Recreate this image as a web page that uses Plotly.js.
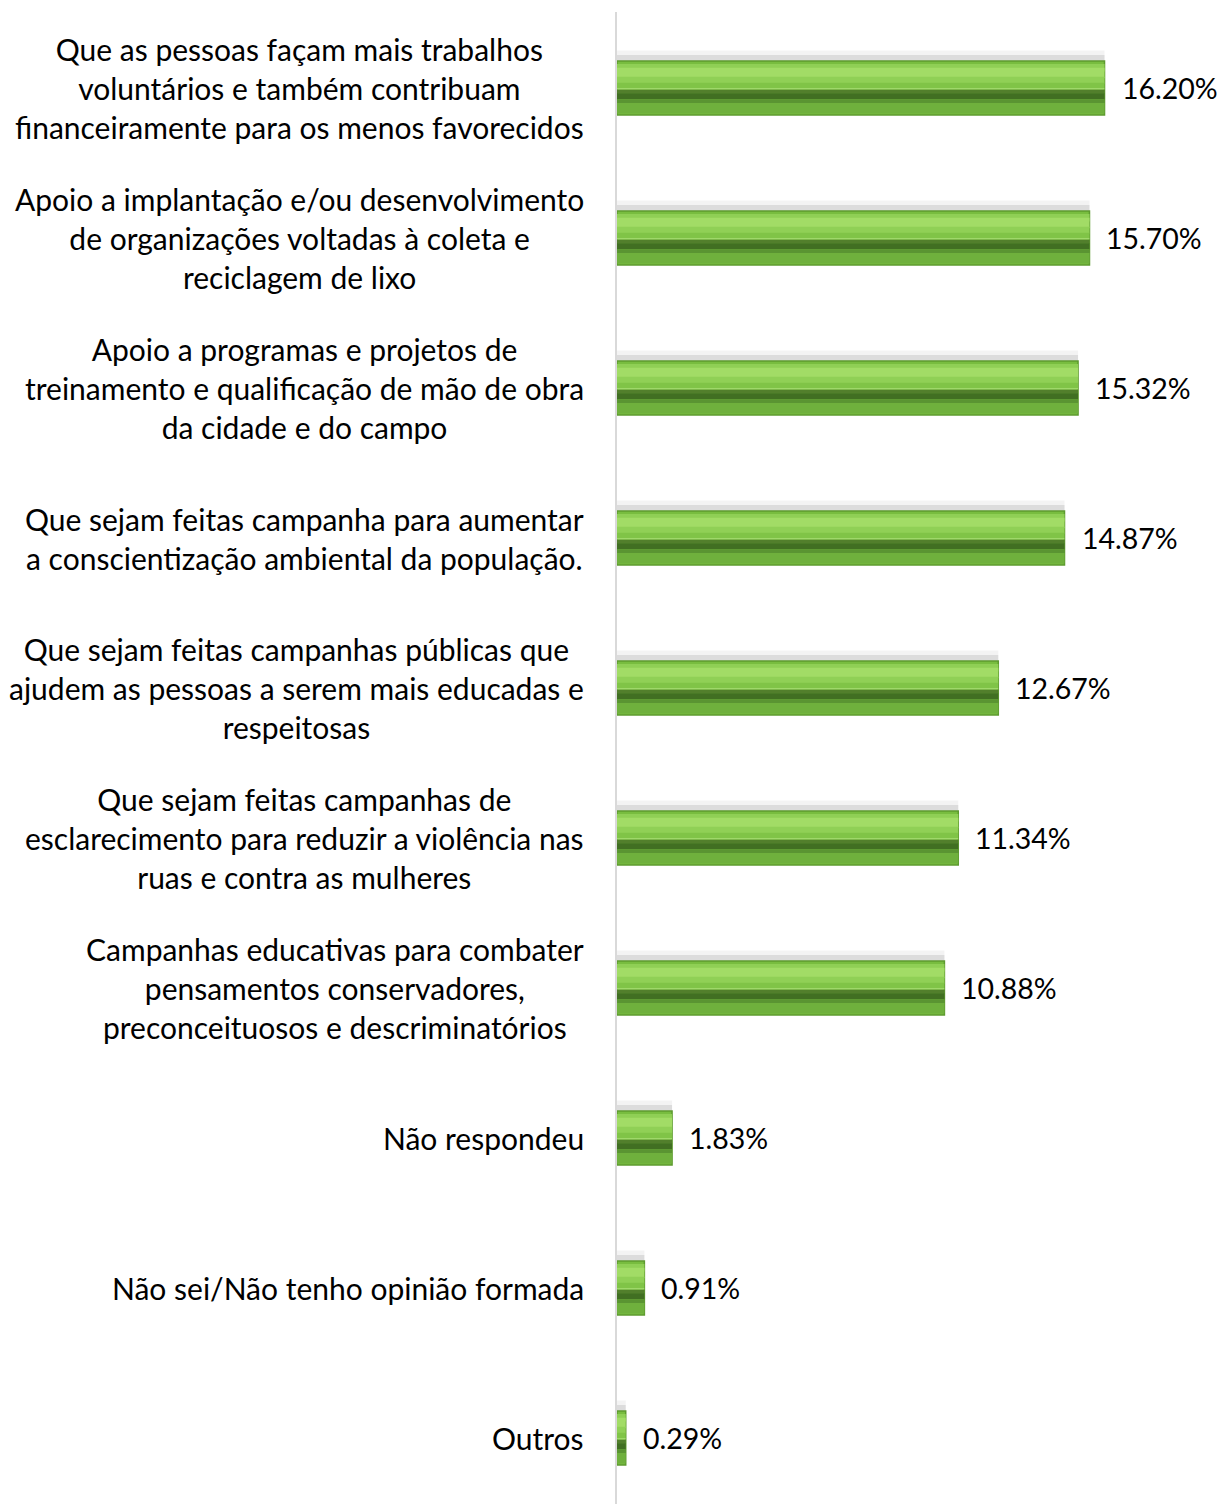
<!DOCTYPE html>
<html>
<head>
<meta charset="utf-8">
<script src="https://cdn.plot.ly/plotly-3.0.1.min.js"></script>
<style>html,body{margin:0;padding:0;background:#fff;}#chart{width:1221px;height:1504px;}</style>
</head>
<body>
<div id="chart"></div>
<script>
const categories = [
  "Que as pessoas façam mais trabalhos<br>voluntários e também contribuam<br>financeiramente para os menos favorecidos",
  "Apoio a implantação e/ou desenvolvimento<br>de organizações voltadas à coleta e<br>reciclagem de lixo",
  "Apoio a programas e projetos de<br>treinamento e qualificação de mão de obra<br>da cidade e do campo",
  "Que sejam feitas campanha para aumentar<br>a conscientização ambiental da população.",
  "Que sejam feitas campanhas públicas que<br>ajudem as pessoas a serem mais educadas e<br>respeitosas",
  "Que sejam feitas campanhas de<br>esclarecimento para reduzir a violência nas<br>ruas e contra as mulheres",
  "Campanhas educativas para combater<br>pensamentos conservadores,<br>preconceituosos e descriminatórios",
  "Não respondeu",
  "Não sei/Não tenho opinião formada",
  "Outros"
];
const values = [16.20, 15.70, 15.32, 14.87, 12.67, 11.34, 10.88, 1.83, 0.91, 0.29];
const valueLabels = ["16.20%", "15.70%", "15.32%", "14.87%", "12.67%", "11.34%", "10.88%", "1.83%", "0.91%", "0.29%"];

const FONT = "Lato, 'Open Sans', sans-serif";
const idx = categories.map((c, i) => i);

function layer(color, offset, width, line) {
  return {
    type: "bar", orientation: "h", x: values, y: idx,
    offset: offset, width: width,
    marker: {color: color, line: line || {width: 0}},
    hoverinfo: "skip", showlegend: false
  };
}

const traces = [
  layer("rgba(160,160,160,0.12)", -0.25, 0.07),
  layer("rgba(140,140,140,0.22)", -0.22, 0.04),
  layer("#78bd3f", -0.18, 0.36, {color: "#5d9a2f", width: 1.5}),
  layer("#8fcf55", -0.16, 0.05),
  layer("#a2dc66", -0.135, 0.07),
  layer("#90d056", -0.075, 0.045),
  layer("#80c447", -0.035, 0.035),
  layer("#9fd86a", 0.0, 0.01),
  layer("#527f2c", 0.012, 0.025),
  layer("#416f22", 0.035, 0.04),
  layer("#5a9432", 0.075, 0.025),
  layer("#6fb03d", 0.10, 0.07)
];

const annotations = [];
categories.forEach((c, i) => {
  annotations.push({
    xref: "x", yref: "y", x: 0, y: i, xshift: -31,
    xanchor: "right", yanchor: "middle", align: "center",
    text: c, showarrow: false,
    font: {family: FONT, size: 30, color: "#000"}
  });
  annotations.push({
    xref: "x", yref: "y", x: values[i], y: i, xshift: 15,
    xanchor: "left", yanchor: "middle", align: "left",
    text: valueLabels[i], showarrow: false,
    font: {family: FONT, size: 28.5, color: "#000"}
  });
});

const layout = {
  width: 1221, height: 1504,
  margin: {l: 617, r: 0, t: 12, b: 0, pad: 0},
  paper_bgcolor: "#fff", plot_bgcolor: "#fff",
  barmode: "overlay",
  xaxis: {range: [0, 20.07], showgrid: false, zeroline: false, showticklabels: false, showline: false, fixedrange: true},
  yaxis: {type: "linear", range: [9.44, -0.507], showgrid: false, zeroline: false, showticklabels: false,
          showline: true, linecolor: "#d9d9d9", linewidth: 2, ticks: "", fixedrange: true},
  annotations: annotations,
  showlegend: false
};

Plotly.newPlot("chart", traces, layout, {staticPlot: true, displayModeBar: false});
</script>
</body>
</html>
